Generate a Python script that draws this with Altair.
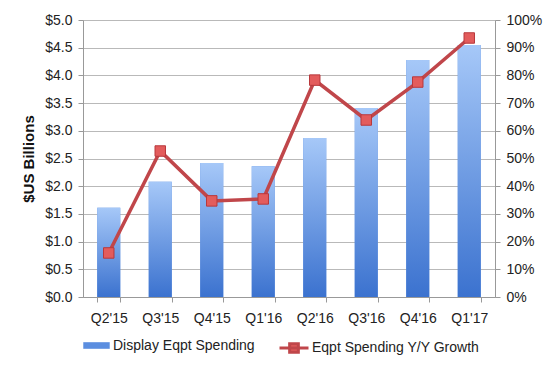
import altair as alt
import pandas as pd

quarters = ["Q2'15", "Q3'15", "Q4'15", "Q1'16", "Q2'16", "Q3'16", "Q4'16", "Q1'17"]
spending = [1.61, 2.08, 2.42, 2.36, 2.87, 3.41, 4.28, 4.55]
growth = [0.159, 0.527, 0.347, 0.354, 0.783, 0.639, 0.776, 0.935]

bar_name = "Display Eqpt Spending"
line_name = "Eqpt Spending Y/Y Growth"

df = pd.DataFrame({"q": quarters, "spend": spending, "growth": growth,
                   "sb": [bar_name] * len(quarters), "sl": [line_name] * len(quarters)})

FONT = "Liberation Sans"
GRID = "#b9b9b9"

xenc = alt.X("q:N", sort=quarters, title=None,
             scale=alt.Scale(paddingInner=0.56, paddingOuter=0.28),
             axis=alt.Axis(labelAngle=0, tickBand="extent", tickSize=5,
                           labelPadding=9, labelFontSize=14, labelFont=FONT,
                           labelColor="#222", domainColor="#999", tickColor="#999"))

yleft = alt.Y("spend:Q", title="$US Billions",
              scale=alt.Scale(domain=[0, 5]),
              axis=alt.Axis(values=[0, 0.5, 1, 1.5, 2, 2.5, 3, 3.5, 4, 4.5, 5], format="$.1f",
                            labelFontSize=14, labelFont=FONT, labelColor="#222",
                            titleFont=FONT, titleFontSize=15, titleFontWeight="bold",
                            titleColor="#111", titlePadding=8,
                            tickSize=5, domainColor="#999", tickColor="#999",
                            grid=True, gridColor=GRID, labelPadding=6))

bars1 = alt.Chart(df).mark_bar(size=23).encode(
    fill=alt.Fill("sb:N",
                  scale=alt.Scale(domain=[bar_name], range=["#5b8ee0"]),
                  legend=alt.Legend(title=None, orient="none", legendX=0, legendY=312,
                                    symbolType="M-1,-0.25H1V0.25H-1Z", symbolSize=700,
                                    symbolStrokeWidth=0, labelFont=FONT, labelFontSize=14,
                                    labelColor="#222", labelOffset=3, labelLimit=300)),
)

grad = alt.Gradient(gradient="linear",
                    stops=[alt.GradientStop(offset=0, color="#a6c8f8"),
                           alt.GradientStop(offset=1, color="#3b72cf")],
                    x1=0, x2=0, y1=0, y2=1)

bars2 = alt.Chart(df).mark_bar(size=23, color=grad)

yright = alt.Y("growth:Q", title=None,
               scale=alt.Scale(domain=[0, 1]),
               axis=alt.Axis(orient="right", values=[i / 10 for i in range(11)], format=".0%",
                             labelFontSize=14, labelFont=FONT, labelColor="#222",
                             tickSize=5, domainColor="#999", tickColor="#999",
                             grid=False, labelPadding=6))

line = alt.Chart(df).mark_line(strokeWidth=3.5).encode(
    stroke=alt.Stroke("sl:N",
                      scale=alt.Scale(domain=[line_name], range=["#c0464a"]),
                      legend=alt.Legend(title=None, orient="none", legendX=195, legendY=312,
                                        symbolType="M-1,0H1M-0.3,-0.3H0.3V0.3H-0.3Z",
                                        symbolSize=841, symbolStrokeWidth=3,
                                        symbolFillColor="#e35c5c",
                                        labelFont=FONT, labelFontSize=14,
                                        labelColor="#222", labelOffset=2, labelLimit=300)),
)

pts = alt.Chart(df).mark_square(size=110, fill="#e35c5c", stroke="#b8383c",
                                strokeWidth=1, opacity=1)

left = alt.layer(bars1, bars2).encode(x=xenc, y=yleft)
right = alt.layer(line, pts).encode(x=alt.X("q:N", sort=quarters), y=yright)

chart = alt.layer(left, right).resolve_scale(
    y="independent", fill="independent", stroke="independent"
).properties(
    width=412, height=277,
    autosize=alt.AutoSizeParams(type="none"),
    padding={"left": 75, "top": 12, "right": 50, "bottom": 60},
).configure_view(stroke=None).configure(background="white")

chart.save("out.html", embed_options={"renderer": "svg", "actions": False})
